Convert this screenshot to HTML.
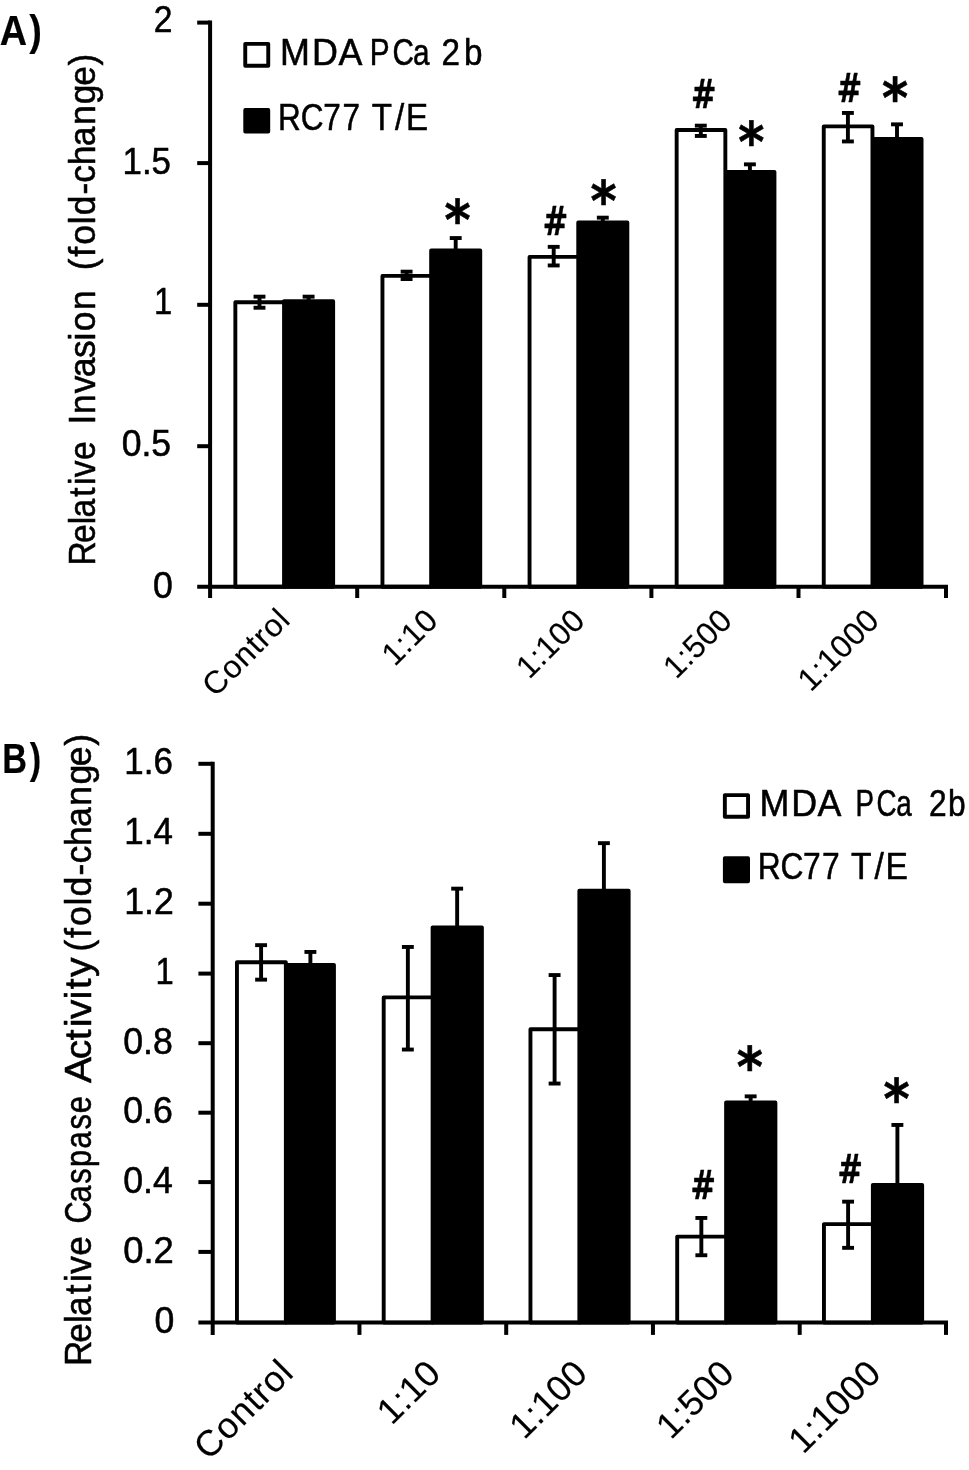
<!DOCTYPE html>
<html lang="en">
<head>
<meta charset="utf-8">
<title>Relative invasion and caspase activity</title>
<style>
html,body{margin:0;padding:0;background:#fff;}
body{width:969px;height:1470px;overflow:hidden;}
svg{display:block;will-change:transform;filter:grayscale(1);}
svg text{font-family:"Liberation Sans", sans-serif;fill:#000;font-kerning:normal;stroke:#000;stroke-width:0.55px;stroke-linejoin:round;}
</style>
</head>
<body>
<svg width="969" height="1470" viewBox="0 0 969 1470">
<rect x="0" y="0" width="969" height="1470" fill="#fff"/>
<g stroke="#000" fill="none" stroke-linecap="butt">
<rect x="284.05" y="301.15" width="49.10" height="285.55" fill="#000" stroke-width="3.9" stroke-linejoin="round"/>
<rect x="235.35" y="302.30" width="48.70" height="284.40" fill="#fff" stroke-width="3.9" stroke-linejoin="round"/>
<line x1="253.55" y1="296.65" x2="265.45" y2="296.65" stroke-width="3.9"/>
<line x1="253.55" y1="307.75" x2="265.45" y2="307.75" stroke-width="3.9"/>
<line x1="259.50" y1="296.65" x2="259.50" y2="307.75" stroke-width="3.9"/>
<line x1="302.65" y1="296.65" x2="314.55" y2="296.65" stroke-width="3.9"/>
<line x1="308.60" y1="296.65" x2="308.60" y2="302.20" stroke-width="3.9"/>
<rect x="431.15" y="250.55" width="49.10" height="336.15" fill="#000" stroke-width="3.9" stroke-linejoin="round"/>
<rect x="382.45" y="275.90" width="48.70" height="310.80" fill="#fff" stroke-width="3.9" stroke-linejoin="round"/>
<line x1="400.65" y1="271.65" x2="412.55" y2="271.65" stroke-width="3.9"/>
<line x1="400.65" y1="279.05" x2="412.55" y2="279.05" stroke-width="3.9"/>
<line x1="406.60" y1="271.65" x2="406.60" y2="279.05" stroke-width="3.9"/>
<line x1="449.75" y1="238.05" x2="461.65" y2="238.05" stroke-width="3.9"/>
<line x1="455.70" y1="238.05" x2="455.70" y2="251.60" stroke-width="3.9"/>
<rect x="578.25" y="222.55" width="49.10" height="364.15" fill="#000" stroke-width="3.9" stroke-linejoin="round"/>
<rect x="529.55" y="256.90" width="48.70" height="329.80" fill="#fff" stroke-width="3.9" stroke-linejoin="round"/>
<line x1="547.75" y1="246.85" x2="559.65" y2="246.85" stroke-width="3.9"/>
<line x1="547.75" y1="265.45" x2="559.65" y2="265.45" stroke-width="3.9"/>
<line x1="553.70" y1="246.85" x2="553.70" y2="265.45" stroke-width="3.9"/>
<line x1="596.85" y1="217.65" x2="608.75" y2="217.65" stroke-width="3.9"/>
<line x1="602.80" y1="217.65" x2="602.80" y2="223.60" stroke-width="3.9"/>
<rect x="725.35" y="171.85" width="49.10" height="414.85" fill="#000" stroke-width="3.9" stroke-linejoin="round"/>
<rect x="676.65" y="130.00" width="48.70" height="456.70" fill="#fff" stroke-width="3.9" stroke-linejoin="round"/>
<line x1="694.85" y1="125.65" x2="706.75" y2="125.65" stroke-width="3.9"/>
<line x1="694.85" y1="135.95" x2="706.75" y2="135.95" stroke-width="3.9"/>
<line x1="700.80" y1="125.65" x2="700.80" y2="135.95" stroke-width="3.9"/>
<line x1="743.95" y1="164.35" x2="755.85" y2="164.35" stroke-width="3.9"/>
<line x1="749.90" y1="164.35" x2="749.90" y2="172.90" stroke-width="3.9"/>
<rect x="872.45" y="138.95" width="49.10" height="447.75" fill="#000" stroke-width="3.9" stroke-linejoin="round"/>
<rect x="823.75" y="126.40" width="48.70" height="460.30" fill="#fff" stroke-width="3.9" stroke-linejoin="round"/>
<line x1="841.95" y1="112.95" x2="853.85" y2="112.95" stroke-width="3.9"/>
<line x1="841.95" y1="141.45" x2="853.85" y2="141.45" stroke-width="3.9"/>
<line x1="847.90" y1="112.95" x2="847.90" y2="141.45" stroke-width="3.9"/>
<line x1="891.05" y1="124.35" x2="902.95" y2="124.35" stroke-width="3.9"/>
<line x1="897.00" y1="124.35" x2="897.00" y2="140.00" stroke-width="3.9"/>
<line x1="210.10" y1="20.60" x2="210.10" y2="598.00" stroke-width="4.0"/>
<line x1="197.20" y1="586.70" x2="948.00" y2="586.70" stroke-width="4.0"/>
<line x1="197.20" y1="446.20" x2="210.10" y2="446.20" stroke-width="4.0"/>
<line x1="197.20" y1="304.80" x2="210.10" y2="304.80" stroke-width="4.0"/>
<line x1="197.20" y1="163.10" x2="210.10" y2="163.10" stroke-width="4.0"/>
<line x1="197.20" y1="22.60" x2="210.10" y2="22.60" stroke-width="4.0"/>
<line x1="357.20" y1="586.70" x2="357.20" y2="598.00" stroke-width="4.0"/>
<line x1="504.30" y1="586.70" x2="504.30" y2="598.00" stroke-width="4.0"/>
<line x1="651.40" y1="586.70" x2="651.40" y2="598.00" stroke-width="4.0"/>
<line x1="798.50" y1="586.70" x2="798.50" y2="598.00" stroke-width="4.0"/>
<line x1="946.00" y1="586.70" x2="946.00" y2="598.00" stroke-width="4.0"/>
<rect x="285.85" y="964.85" width="48.10" height="357.75" fill="#000" stroke-width="3.9" stroke-linejoin="round"/>
<rect x="236.95" y="962.30" width="48.90" height="360.30" fill="#fff" stroke-width="3.9" stroke-linejoin="round"/>
<line x1="255.15" y1="945.15" x2="267.05" y2="945.15" stroke-width="3.9"/>
<line x1="255.15" y1="979.65" x2="267.05" y2="979.65" stroke-width="3.9"/>
<line x1="261.10" y1="945.15" x2="261.10" y2="979.65" stroke-width="3.9"/>
<line x1="304.45" y1="951.95" x2="316.35" y2="951.95" stroke-width="3.9"/>
<line x1="310.40" y1="951.95" x2="310.40" y2="965.90" stroke-width="3.9"/>
<rect x="432.60" y="927.35" width="49.30" height="395.25" fill="#000" stroke-width="3.9" stroke-linejoin="round"/>
<rect x="383.70" y="997.40" width="48.90" height="325.20" fill="#fff" stroke-width="3.9" stroke-linejoin="round"/>
<line x1="401.90" y1="946.95" x2="413.80" y2="946.95" stroke-width="3.9"/>
<line x1="401.90" y1="1049.55" x2="413.80" y2="1049.55" stroke-width="3.9"/>
<line x1="407.85" y1="946.95" x2="407.85" y2="1049.55" stroke-width="3.9"/>
<line x1="451.20" y1="888.65" x2="463.10" y2="888.65" stroke-width="3.9"/>
<line x1="457.15" y1="888.65" x2="457.15" y2="928.40" stroke-width="3.9"/>
<rect x="579.35" y="890.65" width="49.30" height="431.95" fill="#000" stroke-width="3.9" stroke-linejoin="round"/>
<rect x="530.45" y="1029.20" width="48.90" height="293.40" fill="#fff" stroke-width="3.9" stroke-linejoin="round"/>
<line x1="548.65" y1="975.05" x2="560.55" y2="975.05" stroke-width="3.9"/>
<line x1="548.65" y1="1083.55" x2="560.55" y2="1083.55" stroke-width="3.9"/>
<line x1="554.60" y1="975.05" x2="554.60" y2="1083.55" stroke-width="3.9"/>
<line x1="597.95" y1="843.15" x2="609.85" y2="843.15" stroke-width="3.9"/>
<line x1="603.90" y1="843.15" x2="603.90" y2="891.70" stroke-width="3.9"/>
<rect x="726.10" y="1102.55" width="49.30" height="220.05" fill="#000" stroke-width="3.9" stroke-linejoin="round"/>
<rect x="677.20" y="1236.60" width="48.90" height="86.00" fill="#fff" stroke-width="3.9" stroke-linejoin="round"/>
<line x1="695.40" y1="1217.95" x2="707.30" y2="1217.95" stroke-width="3.9"/>
<line x1="695.40" y1="1255.25" x2="707.30" y2="1255.25" stroke-width="3.9"/>
<line x1="701.35" y1="1217.95" x2="701.35" y2="1255.25" stroke-width="3.9"/>
<line x1="744.70" y1="1096.35" x2="756.60" y2="1096.35" stroke-width="3.9"/>
<line x1="750.65" y1="1096.35" x2="750.65" y2="1103.60" stroke-width="3.9"/>
<rect x="872.85" y="1184.95" width="49.30" height="137.65" fill="#000" stroke-width="3.9" stroke-linejoin="round"/>
<rect x="823.95" y="1224.10" width="48.90" height="98.50" fill="#fff" stroke-width="3.9" stroke-linejoin="round"/>
<line x1="842.15" y1="1201.65" x2="854.05" y2="1201.65" stroke-width="3.9"/>
<line x1="842.15" y1="1247.85" x2="854.05" y2="1247.85" stroke-width="3.9"/>
<line x1="848.10" y1="1201.65" x2="848.10" y2="1247.85" stroke-width="3.9"/>
<line x1="891.45" y1="1124.95" x2="903.35" y2="1124.95" stroke-width="3.9"/>
<line x1="897.40" y1="1124.95" x2="897.40" y2="1186.00" stroke-width="3.9"/>
<line x1="212.70" y1="761.80" x2="212.70" y2="1334.90" stroke-width="4.0"/>
<line x1="198.40" y1="1322.60" x2="948.00" y2="1322.60" stroke-width="4.0"/>
<line x1="198.40" y1="1251.90" x2="212.70" y2="1251.90" stroke-width="4.0"/>
<line x1="198.40" y1="1182.10" x2="212.70" y2="1182.10" stroke-width="4.0"/>
<line x1="198.40" y1="1112.70" x2="212.70" y2="1112.70" stroke-width="4.0"/>
<line x1="198.40" y1="1043.20" x2="212.70" y2="1043.20" stroke-width="4.0"/>
<line x1="198.40" y1="973.60" x2="212.70" y2="973.60" stroke-width="4.0"/>
<line x1="198.40" y1="903.70" x2="212.70" y2="903.70" stroke-width="4.0"/>
<line x1="198.40" y1="833.80" x2="212.70" y2="833.80" stroke-width="4.0"/>
<line x1="198.40" y1="763.80" x2="212.70" y2="763.80" stroke-width="4.0"/>
<line x1="359.45" y1="1322.60" x2="359.45" y2="1334.90" stroke-width="4.0"/>
<line x1="506.20" y1="1322.60" x2="506.20" y2="1334.90" stroke-width="4.0"/>
<line x1="652.95" y1="1322.60" x2="652.95" y2="1334.90" stroke-width="4.0"/>
<line x1="799.70" y1="1322.60" x2="799.70" y2="1334.90" stroke-width="4.0"/>
<line x1="946.00" y1="1322.60" x2="946.00" y2="1334.90" stroke-width="4.0"/>
<rect x="245.25" y="43.85" width="23.00" height="21.90" fill="#fff" stroke-width="3.9" stroke-linejoin="round"/>
<rect x="245.25" y="109.95" width="23.00" height="21.50" fill="#000" stroke-width="3.9" stroke-linejoin="round"/>
<rect x="724.85" y="795.15" width="23.20" height="21.60" fill="#fff" stroke-width="3.9" stroke-linejoin="round"/>
<rect x="724.85" y="858.25" width="23.20" height="23.00" fill="#000" stroke-width="3.9" stroke-linejoin="round"/>
</g>
<g>
<text x="-0.18 32.49" y="45.10" font-size="42.2" style='font-weight:bold;stroke-width:0.2px;' transform="scale(0.8976,1)">A)</text>
<text x="2.89 36.69" y="772.80" font-size="42.2" style='font-weight:bold;stroke-width:0.2px;' transform="scale(0.8128,1)">B)</text>
<text x="153.79" y="31.90" font-size="37.2" textLength="18.73" lengthAdjust="spacingAndGlyphs">2</text>
<text x="122.52" y="174.00" font-size="37.2" textLength="48.52" lengthAdjust="spacingAndGlyphs">1.5</text>
<text x="153.94" y="313.70" font-size="37.2" textLength="18.25" lengthAdjust="spacingAndGlyphs">1</text>
<text x="121.64" y="456.40" font-size="37.2" textLength="49.41" lengthAdjust="spacingAndGlyphs">0.5</text>
<text x="152.94" y="598.00" font-size="37.2" textLength="19.81" lengthAdjust="spacingAndGlyphs">0</text>
<text x="124.32" y="774.20" font-size="37.2" textLength="48.52" lengthAdjust="spacingAndGlyphs">1.6</text>
<text x="124.32" y="844.05" font-size="37.2" textLength="48.52" lengthAdjust="spacingAndGlyphs">1.4</text>
<text x="124.28" y="913.90" font-size="37.2" textLength="49.53" lengthAdjust="spacingAndGlyphs">1.2</text>
<text x="155.54" y="983.75" font-size="37.2" textLength="18.25" lengthAdjust="spacingAndGlyphs">1</text>
<text x="123.24" y="1053.60" font-size="37.2" textLength="49.61" lengthAdjust="spacingAndGlyphs">0.8</text>
<text x="123.24" y="1123.45" font-size="37.2" textLength="49.61" lengthAdjust="spacingAndGlyphs">0.6</text>
<text x="123.24" y="1193.30" font-size="37.2" textLength="49.61" lengthAdjust="spacingAndGlyphs">0.4</text>
<text x="123.22" y="1263.15" font-size="37.2" textLength="50.63" lengthAdjust="spacingAndGlyphs">0.2</text>
<text x="154.44" y="1333.00" font-size="37.2" textLength="19.81" lengthAdjust="spacingAndGlyphs">0</text>
<text x="-627.39 -602.63 -581.70 -574.30 -551.25 -538.14 -529.54 -510.46" y="0.00" font-size="37.2" transform="translate(95.3,0) rotate(-90) scale(0.9012,1)">Relative</text>
<text x="-447.00 -435.93 -414.17 -397.16 -376.97 -358.55 -348.91 -326.47" y="0.00" font-size="37.2" transform="translate(95.3,0) rotate(-90) scale(0.9497,1)">Invasion</text>
<text x="-283.88 -269.68 -257.15 -235.70 -226.29 -204.44 -191.95 -173.63 -153.65 -131.47 -109.45 -90.20 -68.86" y="0.00" font-size="37.2" transform="translate(95.3,0) rotate(-90) scale(0.9516,1)">(fold-change)</text>
<text x="-1448.19 -1423.43 -1402.50 -1395.10 -1372.05 -1358.94 -1350.34 -1331.26" y="0.00" font-size="37.2" transform="translate(91.4,0) rotate(-90) scale(0.9433,1)">Relative</text>
<text x="-1478.12 -1452.96 -1430.17 -1409.81 -1387.52 -1364.73 -1345.04" y="0.00" font-size="37.2" transform="translate(91.4,0) rotate(-90) scale(0.8277,1)">Caspase</text>
<text x="-1034.54 -1011.75 -993.59 -980.90 -973.25 -954.43 -944.95 -933.33" y="0.00" font-size="37.2" transform="translate(91.4,0) rotate(-90) scale(1.0469,1)">Activity</text>
<text x="-993.83 -979.62 -967.10 -945.64 -936.24 -914.39 -901.89 -883.57 -863.60 -841.42 -819.40 -800.14 -778.81" y="0.00" font-size="37.2" transform="translate(91.4,0) rotate(-90) scale(0.9575,1)">(fold-change)</text>
<text x="290.29 323.64 350.94" y="64.70" font-size="37.2" transform="scale(0.9644,1)">MDA</text>
<text x="463.10 491.53 517.08" y="64.70" font-size="37.2" transform="scale(0.7985,1)">PCa</text>
<text x="493.61 518.77" y="64.70" font-size="37.2" transform="scale(0.8944,1)">2b</text>
<text x="328.11 354.94 381.39 404.16" y="129.90" font-size="37.2" transform="scale(0.8476,1)">RC77</text>
<text x="417.30 443.40 455.77" y="129.90" font-size="37.2" transform="scale(0.8907,1)">T/E</text>
<text x="788.80 821.57 848.91" y="815.60" font-size="37.2" transform="scale(0.9630,1)">MDA</text>
<text x="1144.03 1172.42 1198.72" y="815.60" font-size="37.2" transform="scale(0.7477,1)">PCa</text>
<text x="1089.29 1111.57" y="815.60" font-size="37.2" transform="scale(0.8528,1)">2b</text>
<text x="887.71 914.37 940.65 962.97" y="878.80" font-size="37.2" transform="scale(0.8536,1)">RC77</text>
<text x="941.58 967.77 979.86" y="878.80" font-size="37.2" transform="scale(0.9037,1)">T/E</text>
<text x="-107.63" y="0" font-size="31.8" style='stroke-width:0.15px;' textLength="107.63" lengthAdjust="spacing" transform="translate(291.4,622.0) rotate(-45)">Control</text>
<text x="-63.12" y="0" font-size="31.8" style='stroke-width:0.15px;' textLength="63.12" lengthAdjust="spacing" transform="translate(439.4,622.5) rotate(-45)">1:10</text>
<text x="-81.16" y="0" font-size="31.8" style='stroke-width:0.15px;' textLength="81.16" lengthAdjust="spacing" transform="translate(586.6,622.5) rotate(-45)">1:100</text>
<text x="-81.16" y="0" font-size="31.8" style='stroke-width:0.15px;' textLength="81.16" lengthAdjust="spacing" transform="translate(733.7,622.5) rotate(-45)">1:500</text>
<text x="-99.20" y="0" font-size="31.8" style='stroke-width:0.15px;' textLength="99.20" lengthAdjust="spacing" transform="translate(880.8,622.5) rotate(-45)">1:1000</text>
<text x="-121.85" y="0" font-size="36.0" style='stroke-width:0.15px;' textLength="121.85" lengthAdjust="spacing" transform="translate(294.8,1375.0) rotate(-45)">Control</text>
<text x="-71.47" y="0" font-size="36.0" style='stroke-width:0.15px;' textLength="71.47" lengthAdjust="spacing" transform="translate(442.4,1375.5) rotate(-45)">1:10</text>
<text x="-91.89" y="0" font-size="36.0" style='stroke-width:0.15px;' textLength="91.89" lengthAdjust="spacing" transform="translate(589.2,1375.5) rotate(-45)">1:100</text>
<text x="-91.89" y="0" font-size="36.0" style='stroke-width:0.15px;' textLength="91.89" lengthAdjust="spacing" transform="translate(735.9,1375.5) rotate(-45)">1:500</text>
<text x="-112.31" y="0" font-size="36.0" style='stroke-width:0.15px;' textLength="112.31" lengthAdjust="spacing" transform="translate(882.7,1375.5) rotate(-45)">1:1000</text>
<text x="0" y="0" font-size="40.0" style='font-weight:bold;font-family:"DejaVu Sans", "Liberation Sans", sans-serif;' transform="translate(542.68,234.70) scale(0.7586,0.9667)">#</text>
<text x="0" y="0" font-size="40.0" style='font-weight:bold;font-family:"DejaVu Sans", "Liberation Sans", sans-serif;' transform="translate(690.88,107.80) scale(0.7586,0.9667)">#</text>
<text x="0" y="0" font-size="40.0" style='font-weight:bold;font-family:"DejaVu Sans", "Liberation Sans", sans-serif;' transform="translate(836.78,102.00) scale(0.7586,0.9667)">#</text>
<text x="0" y="0" font-size="40.0" style='font-weight:bold;font-family:"DejaVu Sans", "Liberation Sans", sans-serif;' transform="translate(690.58,1199.00) scale(0.7586,0.9667)">#</text>
<text x="0" y="0" font-size="40.0" style='font-weight:bold;font-family:"DejaVu Sans", "Liberation Sans", sans-serif;' transform="translate(837.48,1183.20) scale(0.7586,0.9667)">#</text>
<text x="0" y="0" font-size="54.0" style='font-weight:bold;font-family:"DejaVu Sans", "Liberation Sans", sans-serif;' transform="translate(444.47,239.38) scale(0.9259,1.0320)">*</text>
<text x="0" y="0" font-size="54.0" style='font-weight:bold;font-family:"DejaVu Sans", "Liberation Sans", sans-serif;' transform="translate(590.47,220.48) scale(0.9259,1.0320)">*</text>
<text x="0" y="0" font-size="54.0" style='font-weight:bold;font-family:"DejaVu Sans", "Liberation Sans", sans-serif;' transform="translate(738.17,160.98) scale(0.9259,1.0320)">*</text>
<text x="0" y="0" font-size="54.0" style='font-weight:bold;font-family:"DejaVu Sans", "Liberation Sans", sans-serif;' transform="translate(882.07,117.48) scale(0.9259,1.0320)">*</text>
<text x="0" y="0" font-size="54.0" style='font-weight:bold;font-family:"DejaVu Sans", "Liberation Sans", sans-serif;' transform="translate(736.67,1086.28) scale(0.9259,1.0320)">*</text>
<text x="0" y="0" font-size="54.0" style='font-weight:bold;font-family:"DejaVu Sans", "Liberation Sans", sans-serif;' transform="translate(883.57,1118.48) scale(0.9259,1.0320)">*</text>
</g>
</svg>
</body>
</html>
